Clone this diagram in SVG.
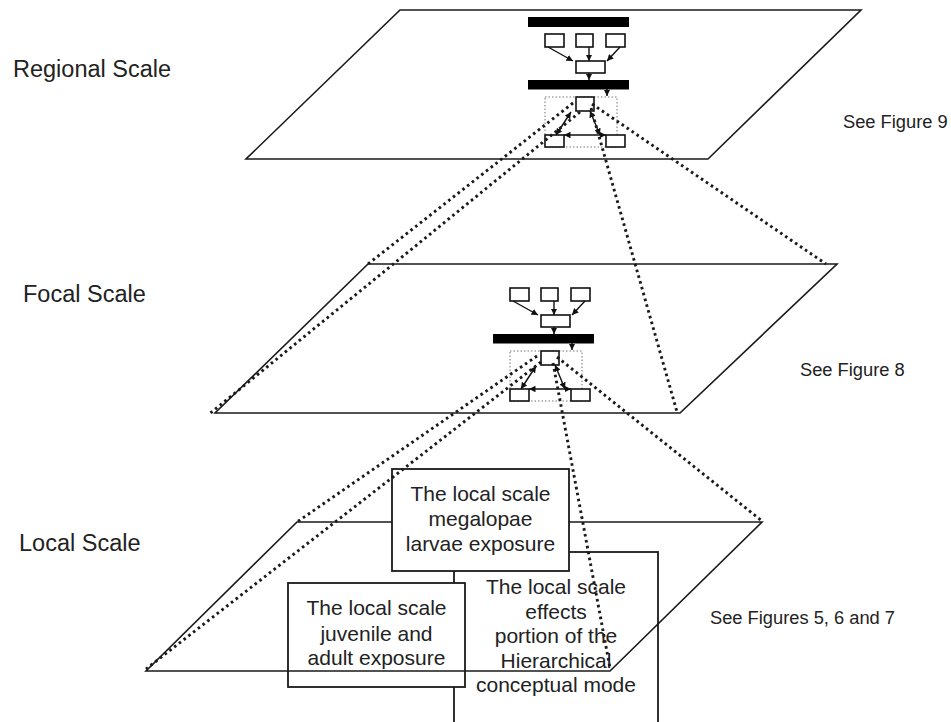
<svg xmlns="http://www.w3.org/2000/svg" xmlns:xlink="http://www.w3.org/1999/xlink" width="951" height="722" viewBox="0 0 951 722">
<style>
.plane{fill:none;stroke:#1a1a1a;stroke-width:1.6;stroke-linejoin:miter}
.lbl{font-family:"Liberation Sans",Arial,sans-serif;font-size:23.5px;fill:#222}
.see{font-family:"Liberation Sans",Arial,sans-serif;font-size:18.3px;fill:#222}
.btxt{font-family:"Liberation Sans",Arial,sans-serif;font-size:21px;fill:#222;text-anchor:middle}
.box{fill:#fff;stroke:#1a1a1a;stroke-width:1.8}
.mbox{fill:#fff;stroke:#111;stroke-width:1.6}
.bar{fill:#000}
.drect{fill:none;stroke:#777;stroke-width:1;stroke-dasharray:1.5 2}
.marr{fill:none;stroke:#111;stroke-width:1.4}
.dot{fill:none;stroke:#1a1a1a;stroke-width:2.9;stroke-dasharray:2.6 3.4}
</style>
<defs>
<marker id="ah" viewBox="0 0 10 10" refX="10" refY="5" markerWidth="6.5" markerHeight="6.5" markerUnits="userSpaceOnUse" orient="auto-start-reverse">
<path d="M0,0 L10,5 L0,10 z" fill="#111"/>
</marker>
<g id="minicore">
<rect class="mbox" x="545" y="34" width="19" height="13"/>
<rect class="mbox" x="576" y="34" width="17" height="13"/>
<rect class="mbox" x="606" y="34" width="19" height="13"/>
<rect class="mbox" x="576" y="61" width="29" height="12"/>
<rect class="bar" x="528" y="80" width="101" height="9.5"/>
<rect class="drect" x="545" y="97" width="72" height="50"/>
<rect class="mbox" x="576" y="97" width="18" height="14"/>
<rect class="mbox" x="545" y="135" width="19" height="12"/>
<rect class="mbox" x="606" y="135" width="19" height="12"/>
<path class="marr" d="M548,47 L573,61" marker-end="url(#ah)"/>
<path class="marr" d="M589,47 L589,61" marker-end="url(#ah)"/>
<path class="marr" d="M620,47 L607,61" marker-end="url(#ah)"/>
<path class="marr" d="M589,73 L589,80" marker-end="url(#ah)"/>
<path class="marr" d="M607,89 L607,96" marker-end="url(#ah)"/>
<path class="marr" d="M571,112 L556,135" marker-start="url(#ah)" marker-end="url(#ah)"/>
<path class="marr" d="M590,111 L600,135" marker-start="url(#ah)" marker-end="url(#ah)"/>
<path class="marr" d="M564,135 L606,135" marker-start="url(#ah)" marker-end="url(#ah)"/>
</g>
</defs>
<rect width="951" height="722" fill="#fff"/>
<g id="regional-scale">
<polygon class="plane" points="400,10 861,10 708,159 246,159"/>
<text class="lbl" x="13" y="77">Regional Scale</text>
<text class="see" x="843" y="128">See Figure 9</text>
</g>
<g id="regional-model">
<rect class="bar" x="528" y="17" width="101" height="10"/>
<use xlink:href="#minicore"/>
</g>
<g id="focal-scale">
<polygon class="plane" points="368,264 837,264 680,413 215,413"/>
<text class="lbl" x="23" y="302">Focal Scale</text>
<text class="see" x="800" y="376">See Figure 8</text>
</g>
<g id="focal-model">
<use xlink:href="#minicore" transform="translate(-35,254)"/>
</g>
<g id="effects-box">
<rect class="box" x="454" y="552" width="204" height="175"/>
<text class="btxt"><tspan x="556" y="594">The local scale</tspan><tspan x="556" y="618.5">effects</tspan><tspan x="556" y="643">portion of the</tspan><tspan x="556" y="667.5">Hierarchical</tspan><tspan x="556" y="692">conceptual mode</tspan></text>
</g>
<g id="juvenile-box">
<rect class="box" x="288" y="583" width="177" height="104"/>
<text class="btxt"><tspan x="376.5" y="615">The local scale</tspan><tspan x="376.5" y="640.5">juvenile and</tspan><tspan x="376.5" y="665">adult exposure</tspan></text>
</g>
<g id="megalopae-box">
<rect class="box" x="392" y="469" width="177" height="102"/>
<text class="btxt"><tspan x="480.5" y="500.7">The local scale</tspan><tspan x="480.5" y="526">megalopae</tspan><tspan x="480.5" y="550.7">larvae exposure</tspan></text>
</g>
<g id="local-scale">
<path class="plane" d="M392,522 L297,522 L146,671 L610,671 L762,522 L569,522"/>
<text class="lbl" x="19" y="551">Local Scale</text>
<text class="see" x="710" y="624">See Figures 5, 6 and 7</text>
</g>
<g id="connectors">
<path class="dot" d="M573,103 L368,264"/>
<path class="dot" d="M580,112 L208,415"/>
<path class="dot" d="M592,104 L826,264"/>
<path class="dot" d="M591,108 L677,412"/>
<path class="dot" d="M537,356 L297,522"/>
<path class="dot" d="M541,362 L146,669"/>
<path class="dot" d="M557,357 L762,521"/>
<path class="dot" d="M553,363 L610,668"/>
</g>
</svg>
